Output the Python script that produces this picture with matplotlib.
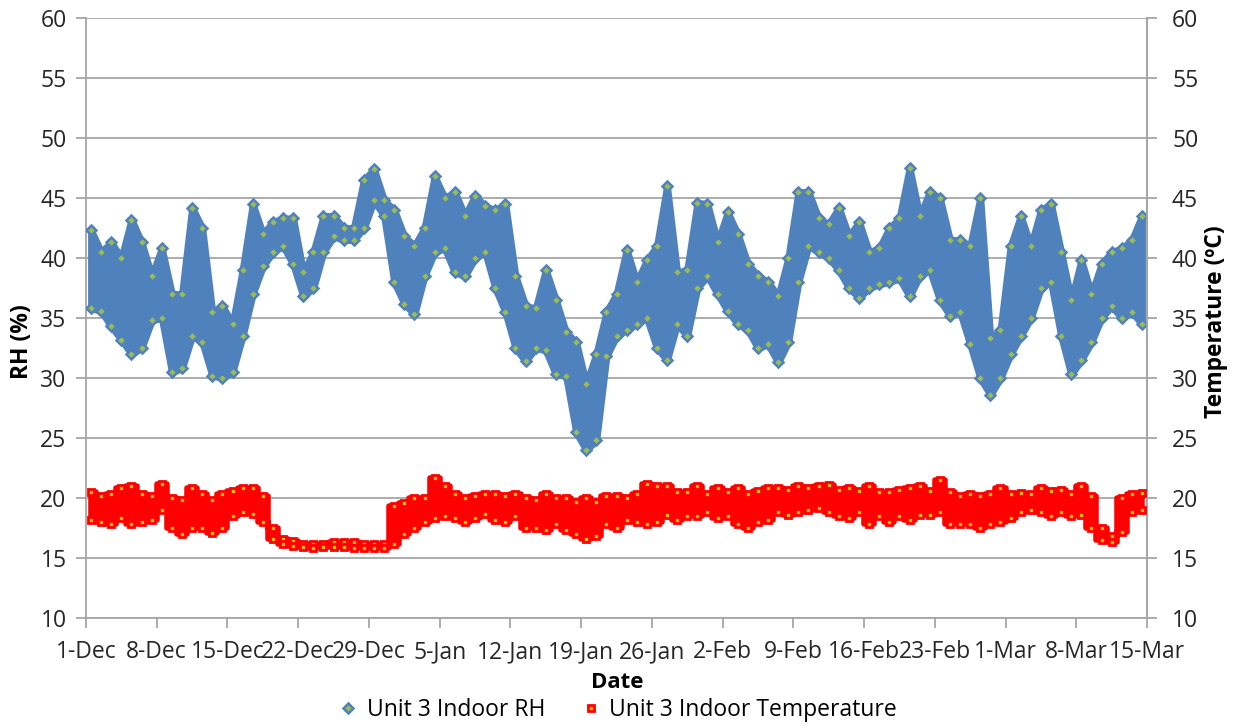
import numpy as np
import matplotlib
matplotlib.use("Agg")
import matplotlib.pyplot as plt
from matplotlib.lines import Line2D

plt.rcParams['font.family'] = ['Open Sans', 'DejaVu Sans']

# ---- data (daily ranges, day 0 = 1-Dec) ----
tick_labels = ["1-Dec", "8-Dec", "15-Dec", "22-Dec", "29-Dec", "5-Jan", "12-Jan",
               "19-Jan", "26-Jan", "2-Feb", "9-Feb", "16-Feb", "23-Feb", "1-Mar",
               "8-Mar", "15-Mar"]

rh_lo = [35.8, 35.6, 34.3, 33.2, 32.0, 32.5, 34.8, 35.0, 30.5, 30.8,
         33.5, 33.0, 30.2, 30.0, 30.5, 33.5, 37.0, 39.3, 40.5, 41.0,
         39.5, 36.8, 37.5, 40.5, 41.8, 41.5, 41.5, 42.5, 44.8, 43.5,
         38.0, 36.2, 35.3, 38.5, 40.5, 40.8, 38.8, 38.5, 40.0, 40.5,
         37.5, 35.5, 32.5, 31.4, 32.5, 32.3, 30.3, 30.2, 25.5, 24.0,
         24.8, 31.8, 33.5, 34.0, 34.5, 35.0, 32.5, 31.5, 34.5, 33.5,
         37.5, 38.5, 37.0, 35.6, 34.5, 34.0, 32.5, 32.8, 31.3, 33.0,
         38.0, 41.0, 40.5, 40.0, 39.0, 37.5, 36.7, 37.5, 37.8, 38.0,
         38.3, 36.8, 38.5, 39.0, 36.5, 35.2, 35.5, 32.8, 30.0, 28.6,
         30.0, 32.0, 33.5, 35.0, 37.5, 38.0, 33.5, 30.3, 31.5, 33.0,
         35.0, 36.0, 35.0, 35.5, 34.5]

rh_hi = [42.3, 40.5, 41.3, 40.0, 43.2, 41.3, 38.5, 40.8, 37.0, 37.0,
         44.2, 42.5, 35.5, 36.0, 34.5, 39.0, 44.5, 42.0, 43.0, 43.3,
         43.3, 38.8, 40.5, 43.5, 43.5, 42.5, 42.5, 46.5, 47.4, 44.8,
         44.0, 41.8, 41.0, 42.5, 46.8, 45.0, 45.5, 43.5, 45.2, 44.3,
         44.0, 44.5, 38.5, 36.0, 35.8, 39.0, 36.5, 33.8, 33.0, 29.5,
         32.0, 35.5, 37.0, 40.7, 38.0, 39.8, 41.0, 46.0, 38.8, 39.0,
         44.6, 44.5, 41.3, 43.8, 42.0, 39.5, 38.5, 38.0, 36.8, 40.0,
         45.5, 45.5, 43.3, 42.8, 44.2, 41.8, 43.0, 40.5, 40.8, 42.5,
         43.3, 47.5, 43.5, 45.5, 45.0, 41.5, 41.5, 41.0, 45.0, 33.3,
         34.0, 41.0, 43.5, 41.0, 44.0, 44.5, 40.5, 36.5, 39.8, 37.0,
         39.5, 40.5, 40.8, 41.5, 43.5]

t_lo = [18.2, 18.0, 17.8, 18.3, 17.8, 18.0, 18.2, 19.0, 17.5, 17.0,
        17.5, 17.5, 17.1, 17.5, 18.5, 18.8, 18.7, 18.0, 16.6, 16.2,
        16.0, 15.9, 15.8, 15.9, 15.9, 15.9, 15.8, 15.8, 15.8, 15.8,
        16.2, 17.0, 17.5, 18.0, 18.3, 18.5, 18.3, 18.0, 18.3, 18.7,
        18.2, 18.0, 18.5, 17.5, 17.5, 17.3, 17.8, 17.3, 17.0, 16.6,
        16.8, 17.8, 17.5, 18.2, 18.0, 17.8, 18.0, 18.6, 18.2, 18.5,
        18.5, 18.8, 18.3, 18.5, 17.8, 17.5, 18.0, 18.2, 18.8, 18.6,
        18.8, 19.0, 19.2, 18.8, 18.5, 18.3, 18.8, 17.8, 18.5, 18.0,
        18.5, 18.2, 18.6, 18.6, 18.8, 17.8, 17.8, 17.8, 17.5, 17.8,
        18.0, 18.3, 18.8, 19.0, 18.8, 18.5, 18.8, 18.5, 18.6, 17.5,
        16.5, 16.3, 17.2, 18.8, 19.0]

t_hi = [20.5, 20.2, 20.3, 20.8, 21.0, 20.3, 20.2, 21.2, 20.0, 19.8,
        20.8, 20.3, 19.8, 20.3, 20.6, 20.8, 20.8, 20.2, 17.5, 16.6,
        16.4, 16.2, 16.2, 16.2, 16.3, 16.3, 16.3, 16.2, 16.2, 16.2,
        19.3, 19.6, 20.0, 20.0, 21.7, 21.0, 20.3, 20.0, 20.2, 20.3,
        20.3, 20.2, 20.3, 20.0, 19.8, 20.3, 20.0, 20.0, 19.7, 20.0,
        19.7, 20.2, 20.2, 20.0, 20.3, 21.2, 21.0, 21.0, 20.5, 20.5,
        21.0, 20.3, 20.8, 20.5, 20.8, 20.3, 20.6, 20.8, 20.8, 20.7,
        21.0, 20.8, 21.0, 21.1, 20.7, 20.8, 20.6, 21.0, 20.5, 20.5,
        20.7, 20.8, 21.0, 20.6, 21.5, 20.5, 20.2, 20.3, 20.2, 20.3,
        20.8, 20.3, 20.4, 20.3, 20.8, 20.6, 20.7, 20.3, 21.0, 20.2,
        17.5, 16.8, 20.0, 20.3, 20.4]

days = np.arange(len(rh_lo)) + 0.5

BLUE = '#4F81BD'
GREEN = '#9BBB59'
RED = '#FF0000'
YELLOW = '#FFC000'
GRID = '#A6A6A6'

fig = plt.figure(figsize=(12.36, 7.26), dpi=100)
ax = fig.add_axes([86/1236, 1-618/726, (1147-86)/1236, 600/726])
ax.set_xlim(0, 105)
ax.set_ylim(10, 60)
ax.set_yticks(np.arange(10, 61, 5))
ax.set_xticks(np.arange(0, 106, 7))
ax.set_xticklabels(tick_labels)
ax.grid(axis='y', color=GRID, lw=1.3)
ax.set_axisbelow(True)
ax.spines['top'].set_visible(False)
for s in ['left', 'right', 'bottom']:
    ax.spines[s].set_color(GRID)
    ax.spines[s].set_linewidth(1.3)
ax.tick_params(axis='both', colors=GRID, labelcolor='#262626', labelsize=16.5,
               length=7, width=1.3, direction='out')
ax.tick_params(axis='y', pad=7)
ax.tick_params(axis='x', pad=9)

# RH series
ax.fill_between(days, rh_lo, rh_hi, color=BLUE, lw=5, edgecolor=BLUE, zorder=3)
ax.plot(days, rh_hi, ls='none', marker='D', ms=5, mew=1.8, mec=BLUE, mfc=GREEN, zorder=4)
ax.plot(days, rh_lo, ls='none', marker='D', ms=5, mew=1.8, mec=BLUE, mfc=GREEN, zorder=4)

# Temperature series on secondary axis
ax2 = ax.twinx()
ax2.set_ylim(10, 60)
ax2.set_yticks(np.arange(10, 61, 5))
for s in ['top', 'left', 'bottom']:
    ax2.spines[s].set_visible(False)
ax2.spines['right'].set_color(GRID)
ax2.spines['right'].set_linewidth(1.3)
ax2.tick_params(axis='y', colors=GRID, labelcolor='#262626', labelsize=16.5,
                length=7, width=1.3, direction='out', pad=11)
ax2.fill_between(days, t_lo, t_hi, step='mid', color=RED, lw=4, edgecolor=RED, zorder=3)
ax2.plot(days, t_hi, ls='none', marker='s', ms=5, mew=2.0, mec=RED, mfc=YELLOW, zorder=4)
ax2.plot(days, t_lo, ls='none', marker='s', ms=5, mew=2.0, mec=RED, mfc=YELLOW, zorder=4)

fig.text(22/1236, 1-342/726, 'RH (%)', rotation=90, ha='center', va='center',
         fontsize=16.5, fontweight='bold', color='#000000')
fig.text(1216/1236, 1-322/726, 'Temperature (ºC)', rotation=90, ha='center', va='center',
         fontsize=16.5, fontweight='bold', color='#000000')
fig.text(617/1236, 1-683/726, 'Date', ha='center', va='center',
         fontsize=16, fontweight='bold', color='#000000')

handles = [Line2D([], [], ls='none', marker='D', ms=5, mew=1.8, mec=BLUE, mfc=GREEN),
           Line2D([], [], ls='none', marker='s', ms=5, mew=2.0, mec=RED, mfc=YELLOW)]
fig.legend(handles, ['Unit 3 Indoor RH', 'Unit 3 Indoor Temperature'], ncol=2,
           loc='center', bbox_to_anchor=(617/1236, 1-710/726), frameon=False,
           fontsize=16.5, handletextpad=0.3, columnspacing=1.5, handlelength=1.0)

fig.savefig('out.png', dpi=100)
